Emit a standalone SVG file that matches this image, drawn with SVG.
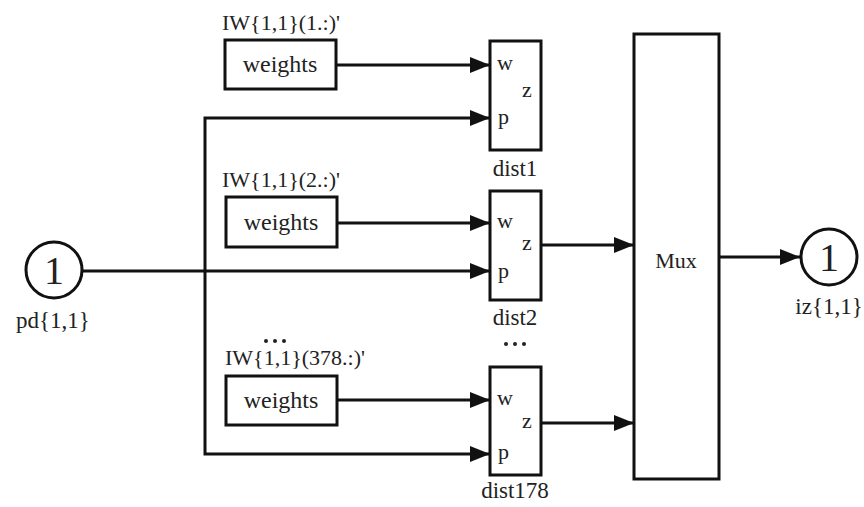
<svg xmlns="http://www.w3.org/2000/svg" width="864" height="507" viewBox="0 0 864 507">
  <style>
    .box { fill: #fff; stroke: #111; stroke-width: 3; }
    .wire { fill: none; stroke: #111; stroke-width: 3; }
    text { font-family: "Liberation Serif", "Times New Roman", "DejaVu Serif", serif; fill: #222; }
    .lbl { font-size: 22px; }
    .wt { font-size: 24px; text-anchor: middle; }
    .port { font-size: 22px; }
    .name { font-size: 23px; text-anchor: middle; }
    .num { font-size: 40px; text-anchor: middle; }
    .dot { fill: #222; }
  </style>
  <defs>
    <marker id="arrow" markerUnits="userSpaceOnUse" markerWidth="20" markerHeight="16" viewBox="0 0 20 16" refX="20" refY="8" orient="auto">
      <path d="M0,0 L20,8 L0,16 Z" fill="#111"/>
    </marker>
    <g id="ellipsis">
      <circle cx="-9" cy="0" r="2" class="dot"/>
      <circle cx="0" cy="0" r="2" class="dot"/>
      <circle cx="9" cy="0" r="2" class="dot"/>
    </g>
  </defs>

  <!-- connectors -->
  <g id="connectors">
    <path class="wire" d="M336,65 H490" marker-end="url(#arrow)"/>
    <path class="wire" d="M337,223 H490" marker-end="url(#arrow)"/>
    <path class="wire" d="M337,400 H490" marker-end="url(#arrow)"/>
    <path class="wire" d="M205,271 V118 H490" marker-end="url(#arrow)"/>
    <path class="wire" d="M205,271 V454 H490" marker-end="url(#arrow)"/>
    <path class="wire" d="M82,271 H490" marker-end="url(#arrow)"/>
    <path class="wire" d="M541,245 H634" marker-end="url(#arrow)"/>
    <path class="wire" d="M541,423 H634" marker-end="url(#arrow)"/>
    <path class="wire" d="M719,257 H800" marker-end="url(#arrow)"/>
  </g>

  <!-- input port -->
  <g id="in-pd">
    <circle cx="54" cy="270" r="28" class="box"/>
    <text x="54" y="284" class="num">1</text>
    <text x="53" y="328" class="name">pd{1,1}</text>
  </g>

  <!-- weight sources -->
  <g id="weights1">
    <text x="222" y="30" class="lbl">IW{1,1}(1.:)'</text>
    <rect x="225" y="40" width="111" height="49" class="box"/>
    <text x="280" y="72" class="wt">weights</text>
  </g>
  <g id="weights2">
    <text x="222" y="187" class="lbl">IW{1,1}(2.:)'</text>
    <rect x="226" y="197" width="111" height="50" class="box"/>
    <text x="281" y="230" class="wt">weights</text>
  </g>
  <g id="weights378">
    <use href="#ellipsis" x="275" y="341"/>
    <text x="225" y="365" class="lbl">IW{1,1}(378.:)'</text>
    <rect x="226" y="376" width="111" height="49" class="box"/>
    <text x="281" y="408" class="wt">weights</text>
  </g>

  <!-- distance blocks -->
  <g id="dist1">
    <rect x="490" y="41" width="51" height="109" class="box"/>
    <text x="497" y="70" class="port">w</text>
    <text x="522" y="97" class="port">z</text>
    <text x="498" y="124" class="port">p</text>
    <text x="515" y="176" class="name">dist1</text>
  </g>
  <g id="dist2">
    <rect x="490" y="191" width="51" height="109" class="box"/>
    <text x="497" y="228" class="port">w</text>
    <text x="522" y="250" class="port">z</text>
    <text x="498" y="278" class="port">p</text>
    <text x="515" y="325" class="name">dist2</text>
    <use href="#ellipsis" x="515" y="344"/>
  </g>
  <g id="dist178">
    <rect x="490" y="367" width="51" height="108" class="box"/>
    <text x="497" y="405" class="port">w</text>
    <text x="522" y="428" class="port">z</text>
    <text x="498" y="459" class="port">p</text>
    <text x="515" y="498" class="name">dist178</text>
  </g>

  <!-- multiplexer -->
  <g id="mux">
    <rect x="634" y="34" width="85" height="445" class="box"/>
    <text x="676" y="268" class="name" style="font-size:22px">Mux</text>
  </g>

  <!-- output port -->
  <g id="out-iz">
    <circle cx="829" cy="257" r="28" class="box"/>
    <text x="829" y="271" class="num">1</text>
    <text x="829" y="314" class="name">iz{1,1}</text>
  </g>
</svg>
